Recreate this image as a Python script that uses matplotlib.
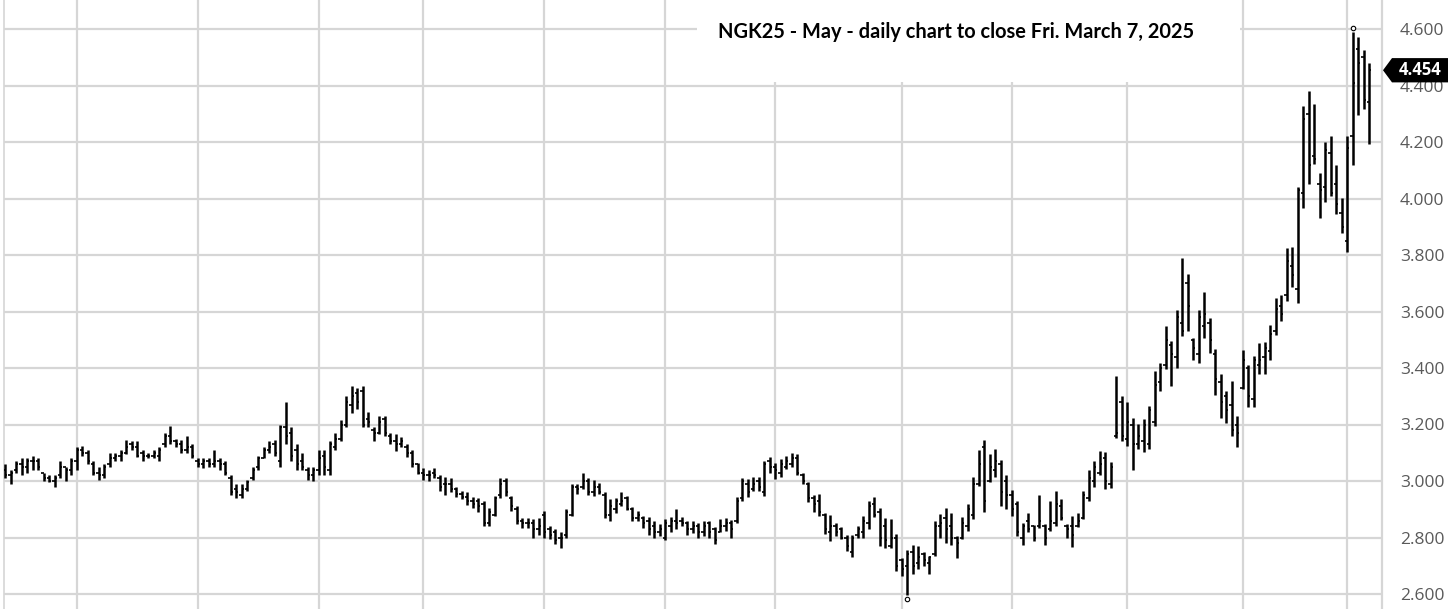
import matplotlib
matplotlib.use("Agg")
import matplotlib.pyplot as plt
from matplotlib.patches import Rectangle, Polygon
from matplotlib.transforms import blended_transform_factory
import numpy as np

# ---- data (NGK25 daily OHLC) ----
highs = [3.06, 3.04, 3.07, 3.08, 3.08, 3.09, 3.08, 3.03, 3.02, 3.02,
         3.07, 3.05, 3.08, 3.12, 3.125, 3.11, 3.07, 3.05, 3.06, 3.10,
         3.10, 3.11, 3.145, 3.14, 3.14, 3.11, 3.10, 3.11, 3.12, 3.17,
         3.195, 3.15, 3.145, 3.16, 3.13, 3.08, 3.08, 3.08, 3.11, 3.08,
         3.07, 3.02, 2.99, 2.99, 3.005, 3.05, 3.09, 3.12, 3.14, 3.145,
         3.20, 3.28, 3.19, 3.13, 3.10, 3.05, 3.05, 3.11, 3.11, 3.14,
         3.17, 3.215, 3.30, 3.335, 3.33, 3.335, 3.245, 3.19, 3.23, 3.23,
         3.17, 3.165, 3.155, 3.13, 3.11, 3.065, 3.045, 3.04, 3.045, 3.02,
         3.015, 3.01, 2.98, 2.965, 2.96, 2.945, 2.94, 2.93, 2.905, 2.947,
         3.01, 3.012, 2.947, 2.91, 2.87, 2.868, 2.865, 2.868, 2.894, 2.84,
         2.83, 2.818, 2.90, 2.99, 2.99, 3.03, 3.012, 3.002, 2.994, 2.96,
         2.935, 2.94, 2.962, 2.947, 2.908, 2.894, 2.876, 2.873, 2.86, 2.847,
         2.865, 2.873, 2.90, 2.873, 2.86, 2.86, 2.85, 2.858, 2.86, 2.838,
         2.865, 2.869, 2.862, 2.942, 3.01, 3.007, 3.015, 3.015, 3.07, 3.084,
         3.063, 3.078, 3.09, 3.10, 3.094, 3.03, 2.995, 2.95, 2.954, 2.885,
         2.88, 2.853, 2.838, 2.81, 2.81, 2.841, 2.876, 2.928, 2.944, 2.904,
         2.869, 2.865, 2.812, 2.729, 2.755, 2.774, 2.77, 2.747, 2.735, 2.857,
         2.883, 2.904, 2.885, 2.806, 2.873, 2.918, 3.015, 3.108, 3.146, 3.096,
         3.114, 3.075, 3.022, 2.968, 2.93, 2.853, 2.885, 2.845, 2.952, 2.847,
         2.928, 2.963, 2.936, 2.847, 2.877, 2.885, 2.966, 3.04, 3.072, 3.105,
         3.102, 3.066, 3.371, 3.30, 3.28, 3.224, 3.202, 3.218, 3.265, 3.389,
         3.418, 3.548, 3.495, 3.607, 3.788, 3.731, 3.507, 3.607, 3.67, 3.578,
         3.466, 3.377, 3.318, 3.353, 3.23, 3.462, 3.41, 3.442, 3.489, 3.492,
         3.553, 3.647, 3.658, 3.825, 3.829, 4.04, 4.326, 4.38, 4.336, 4.092,
         4.20, 4.223, 4.12, 4.003, 4.223, 4.59, 4.57, 4.525, 4.48]

lows = [3.01, 2.99, 3.03, 3.02, 3.03, 3.04, 3.04, 3.00, 2.995, 2.98,
        3.01, 3.00, 3.02, 3.04, 3.09, 3.06, 3.02, 3.005, 3.01, 3.05,
        3.07, 3.07, 3.095, 3.11, 3.085, 3.07, 3.08, 3.08, 3.07, 3.12,
        3.13, 3.12, 3.10, 3.10, 3.08, 3.05, 3.045, 3.05, 3.05, 3.04,
        3.02, 2.95, 2.94, 2.94, 2.965, 3.005, 3.04, 3.08, 3.10, 3.09,
        3.05, 3.13, 3.07, 3.04, 3.04, 3.005, 3.00, 3.02, 3.02, 3.02,
        3.11, 3.14, 3.19, 3.24, 3.255, 3.19, 3.19, 3.14, 3.165, 3.16,
        3.13, 3.105, 3.12, 3.085, 3.05, 3.025, 3.005, 3.00, 3.01, 2.965,
        2.95, 2.96, 2.945, 2.935, 2.915, 2.905, 2.89, 2.84, 2.84, 2.876,
        2.94, 2.947, 2.894, 2.847, 2.835, 2.835, 2.80, 2.81, 2.80, 2.795,
        2.776, 2.762, 2.80, 2.876, 2.953, 2.97, 2.95, 2.947, 2.953, 2.87,
        2.86, 2.885, 2.912, 2.896, 2.86, 2.86, 2.835, 2.81, 2.80, 2.806,
        2.79, 2.82, 2.83, 2.84, 2.81, 2.815, 2.80, 2.804, 2.80, 2.776,
        2.818, 2.824, 2.80, 2.85, 2.928, 2.942, 2.963, 2.966, 2.948, 3.03,
        3.007, 3.015, 3.043, 3.05, 3.022, 2.99, 2.924, 2.89, 2.877, 2.812,
        2.788, 2.806, 2.794, 2.753, 2.73, 2.80, 2.80, 2.83, 2.871, 2.77,
        2.764, 2.764, 2.682, 2.664, 2.596, 2.67, 2.688, 2.70, 2.67, 2.735,
        2.798, 2.782, 2.774, 2.727, 2.794, 2.824, 2.865, 2.983, 2.889, 2.995,
        3.013, 2.912, 2.90, 2.877, 2.806, 2.774, 2.818, 2.788, 2.833, 2.774,
        2.824, 2.841, 2.861, 2.80, 2.765, 2.838, 2.865, 2.93, 2.98, 3.022,
        2.972, 2.975, 3.153, 3.14, 3.123, 3.04, 3.115, 3.103, 3.115, 3.194,
        3.318, 3.395, 3.336, 3.40, 3.513, 3.531, 3.43, 3.418, 3.507, 3.454,
        3.306, 3.224, 3.206, 3.159, 3.12, 3.325, 3.263, 3.263, 3.38, 3.38,
        3.43, 3.518, 3.565, 3.637, 3.688, 3.63, 3.968, 4.05, 4.122, 3.93,
        3.986, 4.01, 3.944, 3.879, 3.81, 4.12, 4.294, 4.318, 4.193]

opens = [3.04, 3.02, 3.04, 3.06, 3.05, 3.07, 3.07, 3.03, 3.01, 3.00,
         3.02, 3.05, 3.04, 3.07, 3.11, 3.10, 3.06, 3.03, 3.02, 3.06,
         3.08, 3.09, 3.10, 3.13, 3.12, 3.10, 3.09, 3.09, 3.09, 3.13,
         3.16, 3.14, 3.13, 3.11, 3.12, 3.07, 3.06, 3.07, 3.06, 3.07,
         3.06, 3.01, 2.97, 2.95, 2.97, 3.01, 3.05, 3.08, 3.11, 3.13,
         3.07, 3.19, 3.17, 3.11, 3.07, 3.04, 3.02, 3.04, 3.09, 3.04,
         3.12, 3.15, 3.20, 3.27, 3.31, 3.32, 3.22, 3.18, 3.17, 3.22,
         3.16, 3.14, 3.13, 3.12, 3.10, 3.06, 3.03, 3.02, 3.03, 3.01,
         2.99, 2.99, 2.97, 2.955, 2.945, 2.93, 2.93, 2.92, 2.85, 2.88,
         2.95, 3.00, 2.94, 2.90, 2.86, 2.85, 2.85, 2.83, 2.88, 2.83,
         2.82, 2.80, 2.81, 2.88, 2.98, 2.98, 3.00, 2.96, 2.98, 2.95,
         2.88, 2.90, 2.92, 2.94, 2.90, 2.87, 2.87, 2.86, 2.84, 2.82,
         2.80, 2.84, 2.86, 2.86, 2.85, 2.83, 2.84, 2.82, 2.85, 2.83,
         2.82, 2.84, 2.85, 2.86, 2.94, 2.99, 2.97, 3.00, 2.96, 3.07,
         3.05, 3.03, 3.05, 3.06, 3.08, 3.02, 2.99, 2.94, 2.93, 2.88,
         2.82, 2.84, 2.83, 2.80, 2.75, 2.81, 2.82, 2.85, 2.92, 2.89,
         2.84, 2.77, 2.80, 2.72, 2.70, 2.75, 2.71, 2.74, 2.71, 2.74,
         2.84, 2.87, 2.84, 2.80, 2.80, 2.84, 2.88, 2.99, 3.12, 3.00,
         3.04, 3.06, 3.00, 2.95, 2.92, 2.80, 2.86, 2.84, 2.84, 2.84,
         2.83, 2.85, 2.91, 2.84, 2.84, 2.84, 2.87, 2.94, 3.00, 3.03,
         3.08, 2.99, 3.16, 3.28, 3.15, 3.20, 3.13, 3.14, 3.13, 3.21,
         3.35, 3.41, 3.48, 3.44, 3.56, 3.70, 3.50, 3.45, 3.55, 3.56,
         3.45, 3.35, 3.30, 3.27, 3.20, 3.33, 3.40, 3.29, 3.41, 3.44,
         3.46, 3.53, 3.62, 3.66, 3.76, 3.68, 4.02, 4.30, 4.15, 4.05,
         4.04, 4.16, 4.05, 3.95, 3.85, 4.22, 4.53, 4.50, 4.34]

closes = [3.02, 3.03, 3.06, 3.05, 3.07, 3.07, 3.05, 3.01, 3.00, 3.01,
          3.05, 3.04, 3.07, 3.11, 3.10, 3.07, 3.03, 3.02, 3.05, 3.08,
          3.09, 3.10, 3.12, 3.12, 3.09, 3.09, 3.09, 3.10, 3.11, 3.16,
          3.14, 3.13, 3.11, 3.12, 3.09, 3.06, 3.07, 3.06, 3.07, 3.06,
          3.03, 2.96, 2.96, 2.97, 2.995, 3.04, 3.08, 3.11, 3.12, 3.10,
          3.19, 3.16, 3.09, 3.06, 3.05, 3.02, 3.04, 3.08, 3.05, 3.13,
          3.15, 3.20, 3.28, 3.30, 3.28, 3.20, 3.21, 3.17, 3.21, 3.17,
          3.14, 3.13, 3.14, 3.10, 3.06, 3.03, 3.02, 3.02, 3.02, 2.98,
          2.99, 2.97, 2.955, 2.945, 2.93, 2.92, 2.91, 2.85, 2.89, 2.94,
          2.99, 2.96, 2.91, 2.86, 2.85, 2.85, 2.83, 2.84, 2.82, 2.81,
          2.79, 2.80, 2.89, 2.98, 2.97, 3.00, 2.96, 2.98, 2.96, 2.88,
          2.91, 2.93, 2.93, 2.90, 2.87, 2.88, 2.85, 2.83, 2.82, 2.83,
          2.85, 2.86, 2.85, 2.85, 2.83, 2.84, 2.82, 2.84, 2.82, 2.79,
          2.84, 2.85, 2.83, 2.93, 3.00, 2.96, 2.99, 2.98, 3.06, 3.05,
          3.04, 3.06, 3.07, 3.08, 3.03, 3.00, 2.94, 2.92, 2.89, 2.83,
          2.84, 2.82, 2.80, 2.77, 2.80, 2.83, 2.86, 2.91, 2.88, 2.80,
          2.79, 2.80, 2.70, 2.69, 2.74, 2.70, 2.73, 2.72, 2.73, 2.84,
          2.85, 2.83, 2.80, 2.78, 2.85, 2.90, 2.99, 3.06, 2.93, 3.05,
          3.07, 2.96, 2.95, 2.90, 2.82, 2.84, 2.83, 2.80, 2.86, 2.80,
          2.86, 2.92, 2.87, 2.83, 2.81, 2.86, 2.95, 3.01, 3.05, 3.06,
          3.00, 3.05, 3.17, 3.16, 3.21, 3.13, 3.16, 3.20, 3.25, 3.34,
          3.40, 3.50, 3.45, 3.58, 3.53, 3.62, 3.47, 3.58, 3.59, 3.50,
          3.36, 3.28, 3.25, 3.18, 3.17, 3.43, 3.30, 3.43, 3.43, 3.47,
          3.52, 3.61, 3.59, 3.78, 3.73, 4.03, 4.28, 4.12, 4.14, 4.03,
          4.17, 4.02, 3.98, 3.90, 4.18, 4.41, 4.48, 4.35, 4.454]

# trading days per month: Mar-24 (partial) .. Mar-25 (partial)
month_names = ["Mar", "Apr", "May", "Jun", "Jul", "Aug", "Sep", "Oct",
               "Nov", "Dec", "Jan", "Feb", "Mar"]
month_days = [13, 22, 22, 19, 22, 22, 20, 23, 20, 21, 21, 19, 5]

y_ticks = [2.6, 2.8, 3.0, 3.2, 3.4, 3.6, 3.8, 4.0, 4.2, 4.4, 4.6]
last_price = 4.454
title = "NGK25 - May - daily chart to close Fri. March 7, 2025"

# ---- figure ----
W, H = 1456, 609
fig = plt.figure(figsize=(W / 100, H / 100), dpi=100)
ax_left, ax_right = 4, 1382
ax = fig.add_axes([ax_left / W, 0, (ax_right - ax_left) / W, 1])

n = len(highs)
x = np.arange(n)
grid_c = "#d6d6d6"

# gridlines
month_starts = np.cumsum(month_days)[:-1]
for ms in month_starts:
    ax.axvline(ms, color=grid_c, lw=1.6, zorder=0.5)
for t in y_ticks:
    ax.axhline(t, color=grid_c, lw=1.6, zorder=0.5)

# white title box covering the grid
fig_box = Rectangle((697 / W, 1 - 82 / H), (1240 - 697) / W, 82 / H,
                    transform=fig.transFigure, facecolor="white",
                    edgecolor="none", zorder=1)
ax.add_patch(fig_box)

# OHLC bars
tick = 0.38
ax.vlines(x, lows, highs, color="black", lw=1.8, zorder=3)
ax.hlines(opens, x - tick, x, color="black", lw=1.2, zorder=3)
ax.hlines(closes, x, x + tick, color="black", lw=1.2, zorder=3)

# high / low markers
i_hi = int(np.argmax(highs))
i_lo = int(np.argmin(lows))
ax.plot([i_hi], [highs[i_hi] + 0.012], marker="o", ms=3.2, mfc="white",
        mec="black", mew=0.8, zorder=4)
ax.plot([i_lo], [lows[i_lo] - 0.015], marker="o", ms=3.2, mfc="white",
        mec="black", mew=0.8, zorder=4)

# axes limits so that pixel mapping matches reference
px_per_bar = 5.5
ax.set_xlim(-(5 - ax_left) / px_per_bar, (ax_right - 5) / px_per_bar)
ax.set_ylim(4.6 - (H - 29) / 282.5, 4.6 + 29 / 282.5)

ax.set_xticks([])
ax.yaxis.tick_right()
ax.set_yticks(y_ticks)
ax.set_yticklabels([f"{t:.3f}" for t in y_ticks], fontsize=12.5,
                   color="#5a5a5a", family="Open Sans")
ax.tick_params(axis="y", length=0, pad=13)
for s in ["top", "bottom"]:
    ax.spines[s].set_visible(False)
ax.spines["left"].set_color(grid_c)
ax.spines["left"].set_linewidth(1.2)
ax.spines["right"].set_color(grid_c)
ax.spines["right"].set_linewidth(1.6)

# title
fig.text(956 / W, 1 - 32 / H, title, ha="center", va="center",
         fontsize=14.4, fontweight="bold", family="Lato", color="black")

# last price tag
tr = blended_transform_factory(fig.transFigure, ax.transData)
dy = 0.043
x0 = 1383 / W
x1 = 1392 / W
x2 = 1448 / W
tag = Polygon([(x0, last_price), (x1, last_price + dy), (x2, last_price + dy),
               (x2, last_price - dy), (x1, last_price - dy)],
              closed=True, transform=tr, facecolor="black", edgecolor="none",
              clip_on=False, zorder=5)
ax.add_patch(tag)
ax.text(1420 / W, last_price, f"{last_price:.3f}", transform=tr,
        ha="center", va="center", color="white", fontsize=12,
        fontweight="bold", family="Open Sans", zorder=6, clip_on=False)

fig.savefig("out.png", dpi=100, facecolor="white")
